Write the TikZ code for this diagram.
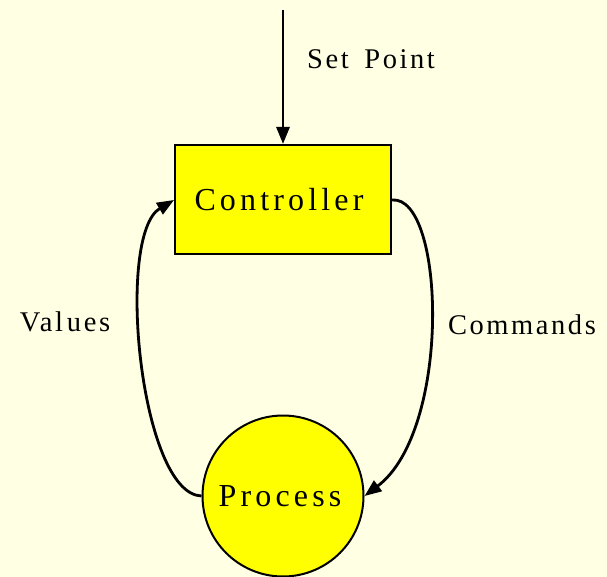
\documentclass[tikz,border=0pt]{standalone}
\usepackage{fontspec}
\setmainfont{Liberation Serif}
\newfontfamily\nodefont[LetterSpace=13]{Liberation Serif}
\newfontfamily\edgefont[LetterSpace=9]{Liberation Serif}
\usetikzlibrary{arrows.meta}
\definecolor{bgyellow}{HTML}{FFFFE3}
\definecolor{nodeyellow}{HTML}{FFFF00}
\tikzset{
  boxnode/.style={draw=black, line width=2pt, fill=nodeyellow, minimum width=216pt, minimum height=109pt, inner sep=0pt, font=\nodefont\fontsize{32}{34}\selectfont},
  circnode/.style={draw=black, line width=2pt, fill=nodeyellow, circle, minimum size=161pt, inner sep=0pt, font=\nodefont\fontsize{32}{34}\selectfont},
  edgelabel/.style={inner sep=0pt, font=\edgefont\fontsize{28.5}{30}\selectfont},
  conn/.style={line width=2.8pt, -{Triangle[length=17pt,width=13pt]}},
}
\begin{document}
\begin{tikzpicture}[x=1pt,y=-1pt]
\fill[bgyellow] (0,0) rectangle (607,577);
\useasboundingbox (0,0) rectangle (607,577);
\node[boxnode] (ctrl) at (283,199.5) {\hspace*{-8pt}Controller};
\node[circnode] (proc) at (283,496) {\hspace*{-6pt}Process};
\coordinate (top) at (283,10);
\node[edgelabel] (splabel) at (371,59) {Set\hspace{6pt} Point};
\node[edgelabel] (vallabel) at (65,322) {Val\hspace{4pt}ues};
\node[edgelabel] (cmdlabel) at (522,325) {Commands};
\draw[conn] (top) -- (ctrl.north);
\draw[conn] (ctrl.east |- 0,200) .. controls (445,195) and (452,430) .. (proc.east);
\draw[conn] (proc.west) .. controls (140,494) and (115,235) .. (ctrl.west |- 0,200);
\end{tikzpicture}
\end{document}
